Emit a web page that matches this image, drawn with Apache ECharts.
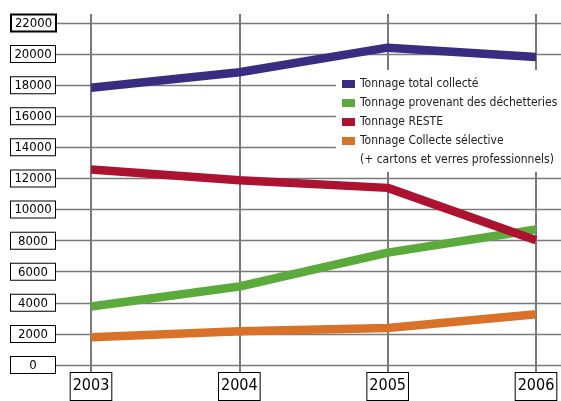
<!DOCTYPE html>
<html>
<head>
<meta charset="utf-8">
<script src="https://cdn.jsdelivr.net/npm/echarts@6/dist/echarts.min.js"></script>
<style>html,body{margin:0;padding:0;background:#fff}#c{width:561px;height:401px}</style>
</head>
<body>
<div id="c"></div>
<script>
const years = ['2003', '2004', '2005', '2006'];
const totalCollecte = [17800, 18800, 20400, 19800];
const decheteries = [3600, 4900, 7100, 8600];
const reste = [12500, 11800, 11300, 7900];
const collecteSelective = [1600, 2000, 2200, 3100];
const seriesNames = ['Tonnage total collecté', 'Tonnage provenant des déchetteries', 'Tonnage RESTE', 'Tonnage Collecte sélective'];
const legendSecondLine = '(+ cartons et verres professionnels)';
const colors = ['#382d80', '#5aab3b', '#ac1330', '#d97228'];

const FONT = "'Liberation Sans Narrow', 'DejaVu Sans Condensed', 'Arial Narrow', sans-serif";
const GRID = '#7a7a7a';
const chart = echarts.init(document.getElementById('c'));

const lineSeries = [totalCollecte, decheteries, reste, collecteSelective].map((d, i) => ({
  name: seriesNames[i], type: 'line', data: d,
  xAxisIndex: 0, yAxisIndex: 0,
  symbol: 'none', color: colors[i],
  lineStyle: { width: 8.5, color: colors[i], cap: 'butt' }
}));
// legend-only entry carrying the second line of the last legend label
lineSeries.push({ name: legendSecondLine, type: 'line', data: [], xAxisIndex: 0, yAxisIndex: 0, symbol: 'none', color: 'rgba(0,0,0,0)' });

chart.setOption({
  animation: false,
  backgroundColor: '#fff',
  textStyle: { fontFamily: FONT },
  grid: [
    { left: 91, right: 25, top: 23, bottom: 36 },
    { left: 55, right: 0, top: 23, bottom: 36 }
  ],
  legend: {
    orient: 'vertical',
    left: 336, top: 70, right: 0,
    backgroundColor: '#fff',
    padding: [6, 6, 4, 6],
    itemWidth: 13, itemHeight: 8, itemGap: 3,
    icon: 'rect',
    selectedMode: false,
    textStyle: { fontFamily: FONT, fontSize: 12, color: '#222', lineHeight: 16 },
    data: [
      { name: seriesNames[0] },
      { name: seriesNames[1] },
      { name: seriesNames[2] },
      { name: seriesNames[3] },
      { name: legendSecondLine, itemStyle: { color: 'rgba(0,0,0,0)', opacity: 0 } }
    ]
  },
  xAxis: [
    {
      type: 'category', gridIndex: 0, data: years, boundaryGap: false,
      axisLine: { show: false },
      axisTick: { show: true, length: 11, lineStyle: { color: GRID, width: 2 } },
      splitLine: { show: true, lineStyle: { color: GRID, width: 2 } },
      axisLabel: {
        margin: 11, fontFamily: FONT, fontSize: 16, color: '#000',
        backgroundColor: '#fff', borderColor: '#000', borderWidth: 1,
        padding: [3, 2, 4, 2], lineHeight: 20
      }
    },
    {
      type: 'category', gridIndex: 0, data: years, boundaryGap: false, position: 'top',
      axisLine: { show: false },
      axisTick: { show: true, length: 9, lineStyle: { color: GRID, width: 2 } },
      axisLabel: { show: false }, splitLine: { show: false }
    },
    { type: 'category', gridIndex: 1, data: years, show: false }
  ],
  yAxis: [
    { type: 'value', gridIndex: 0, min: 0, max: 22000, interval: 2000, show: false, splitLine: { show: false } },
    {
      type: 'value', gridIndex: 1, min: 0, max: 22000, interval: 2000,
      axisLine: { show: false }, axisTick: { show: false },
      splitLine: { show: true, lineStyle: { color: GRID, width: 1.3 } },
      axisLabel: {
        margin: 0,
        formatter: v => (v === 22000 ? '{b|' + v + '}' : '{a|' + v + '}'),
        rich: {
          a: { fontFamily: FONT, fontSize: 13, color: '#000', backgroundColor: '#fff', borderColor: '#000', borderWidth: 1, width: 44, height: 15, align: 'center', padding: [1, 0, 0, 0] },
          b: { fontFamily: FONT, fontSize: 13, color: '#000', backgroundColor: '#fff', borderColor: '#000', borderWidth: 2, width: 43, height: 14, align: 'center', padding: [1, 0, 0, 0] }
        }
      }
    }
  ],
  series: lineSeries
});
</script>
</body>
</html>
